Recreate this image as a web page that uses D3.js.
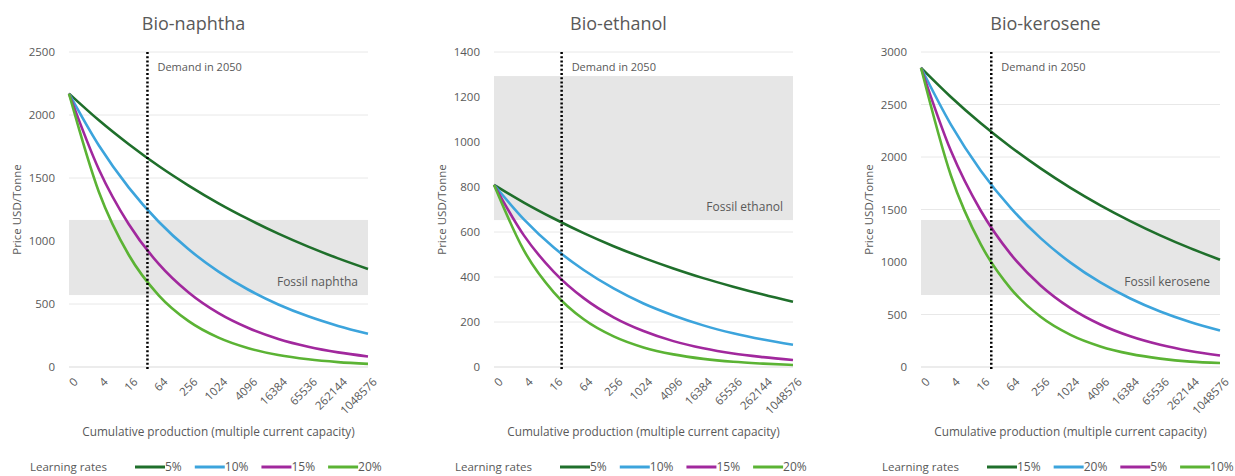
<!DOCTYPE html>
<html>
<head>
<meta charset="utf-8">
<script src="https://cdn.jsdelivr.net/npm/d3@7"></script>
<style>
body { margin: 0; background: #fff; }
text { font-family: "Open Sans", "Noto Sans", sans-serif; fill: #595959; }
</style>
</head>
<body>
<script>
// x categories (multiple of current capacity), log4 spaced
var xMultiples = [1, 4, 16, 64, 256, 1024, 4096, 16384, 65536, 262144, 1048576];
var tickLabels = ['0', '4', '16', '64', '256', '1024', '4096', '16384', '65536', '262144', '1048576'];

var titles = ['Bio-naphtha', 'Bio-ethanol', 'Bio-kerosene'];
var fossilLabels = ['Fossil naphtha', 'Fossil ethanol', 'Fossil kerosene'];
var fossilRanges = [[571, 1167], [653, 1293], [686, 1400]];
var demand2050 = [38, 23, 26];
var yMax = [2500, 1400, 3000];
var yStep = [500, 200, 500];

// price series per panel, in legend order
var naphtha = [
	[2170, 1958, 1768, 1595, 1440, 1299, 1173, 1058, 955, 862, 778],
	[2170, 1758, 1424, 1153, 934, 757, 613, 496, 402, 326, 264],
	[2170, 1568, 1133, 818, 591, 427, 309, 223, 161, 116, 84],
	[2170, 1389, 889, 569, 364, 233, 149, 95, 61, 39, 25]
];
var ethanol = [
	[810, 731, 660, 595, 537, 485, 438, 395, 357, 322, 290],
	[810, 656, 531, 431, 349, 282, 229, 185, 150, 122, 99],
	[810, 585, 423, 306, 221, 160, 115, 83, 60, 44, 31],
	[810, 518, 332, 212, 136, 87, 56, 36, 23, 15, 9]
];
var kerosene = [
	[2850, 2572, 2321, 2095, 1891, 1706, 1540, 1390, 1254, 1132, 1022],
	[2850, 2309, 1870, 1515, 1227, 994, 805, 652, 528, 428, 347],
	[2850, 2059, 1488, 1075, 777, 561, 405, 293, 212, 153, 110],
	[2850, 1824, 1167, 747, 478, 306, 196, 125, 80, 51, 38]
];
var seriesByPanel = [naphtha, ethanol, kerosene];
var legendLabels = [
	['5%', '10%', '15%', '20%'],
	['5%', '10%', '15%', '20%'],
	['15%', '20%', '5%', '10%']
];
var colors = ['#1f6f2b', '#3ca4dc', '#a1289d', '#5bb334'];

var plotLeft = [69, 494, 921];
var plotW = 299, plotTop = 52, plotBottom = 367;

var svg = d3.select('body').append('svg')
	.attr('width', 1235)
	.attr('height', 476);

titles.forEach(function(title, p) {
	var g = svg.append('g');
	var x0 = plotLeft[p];

	var x = d3.scaleLog().base(4)
		.domain([1, 1048576])
		.range([x0, x0 + plotW]);
	var y = d3.scaleLinear()
		.domain([0, yMax[p]])
		.range([plotBottom, plotTop]);

	// gridlines
	var yTicks = d3.range(0, yMax[p] + 1, yStep[p]);
	g.selectAll('line.grid')
		.data(yTicks)
		.enter().append('line')
		.attr('x1', x0).attr('x2', x0 + plotW)
		.attr('y1', function(d) { return y(d); })
		.attr('y2', function(d) { return y(d); })
		.attr('stroke', function(d) { return d === 0 ? '#d9d9d9' : '#e8e8e8'; })
		.attr('stroke-width', 1);

	// fossil range band
	g.append('rect')
		.attr('x', x0)
		.attr('width', plotW)
		.attr('y', y(fossilRanges[p][1]))
		.attr('height', y(fossilRanges[p][0]) - y(fossilRanges[p][1]))
		.attr('fill', '#e6e6e6');

	g.append('text')
		.attr('x', x0 + plotW - 10)
		.attr('y', y(fossilRanges[p][0]) - 9)
		.attr('text-anchor', 'end')
		.style('font-size', '12px')
		.text(fossilLabels[p]);

	// y axis labels
	g.selectAll('text.ytick')
		.data(yTicks)
		.enter().append('text')
		.attr('x', x0 - 14)
		.attr('y', function(d) { return y(d) + 4; })
		.attr('text-anchor', 'end')
		.style('font-size', '11.5px')
		.text(function(d) { return d; });

	g.append('text')
		.attr('transform', 'translate(' + (x0 - 48) + ',' + ((plotTop + plotBottom) / 2) + ') rotate(-90)')
		.attr('text-anchor', 'middle')
		.style('font-size', '11.5px')
		.text('Price USD/Tonne');

	// x axis labels, rotated
	g.selectAll('text.xtick')
		.data(xMultiples)
		.enter().append('text')
		.attr('transform', function(d) {
			return 'translate(' + (x(d) + 4) + ',' + (plotBottom + 10) + ') rotate(-45)';
		})
		.attr('text-anchor', 'end')
		.attr('dy', '0.7em')
		.style('font-size', '11.5px')
		.text(function(d, i) { return tickLabels[i]; });

	g.append('text')
		.attr('x', x0 + plotW / 2)
		.attr('y', 436)
		.attr('text-anchor', 'middle')
		.style('font-size', '11.8px')
		.text('Cumulative production (multiple current capacity)');

	// title
	g.append('text')
		.attr('x', x0 + plotW / 2 - 25)
		.attr('y', 30)
		.attr('text-anchor', 'middle')
		.style('font-size', '18px')
		.text(title);

	// learning curves
	var line = d3.line()
		.x(function(d, i) { return x(xMultiples[i]); })
		.y(function(d) { return y(d); })
		.curve(d3.curveMonotoneX);

	g.selectAll('path.curve')
		.data(seriesByPanel[p])
		.enter().append('path')
		.attr('d', line)
		.attr('fill', 'none')
		.attr('stroke', function(d, i) { return colors[i]; })
		.attr('stroke-width', 2.6);

	// demand in 2050 marker
	g.append('line')
		.attr('x1', x(demand2050[p])).attr('x2', x(demand2050[p]))
		.attr('y1', plotTop).attr('y2', plotBottom + 3)
		.attr('stroke', '#000')
		.attr('stroke-width', 2.5)
		.attr('stroke-dasharray', '2,2.2');

	g.append('text')
		.attr('x', x(demand2050[p]) + 10)
		.attr('y', plotTop + 19)
		.style('font-size', '11px')
		.text('Demand in 2050');

	// legend
	var ly = 467;
	g.append('text')
		.attr('x', x0 - 39)
		.attr('y', ly + 4)
		.style('font-size', '11.5px')
		.text('Learning rates');

	var lx = x0 + 66;
	legendLabels[p].forEach(function(lbl, i) {
		g.append('line')
			.attr('x1', lx).attr('x2', lx + 30)
			.attr('y1', ly).attr('y2', ly)
			.attr('stroke', colors[i])
			.attr('stroke-width', 3);
		var t = g.append('text')
			.attr('x', lx + 30)
			.attr('y', ly + 4)
			.style('font-size', '12px')
			.text(lbl);
		lx += 30 + t.node().getComputedTextLength() + 13;
	});
});
</script>
</body>
</html>
